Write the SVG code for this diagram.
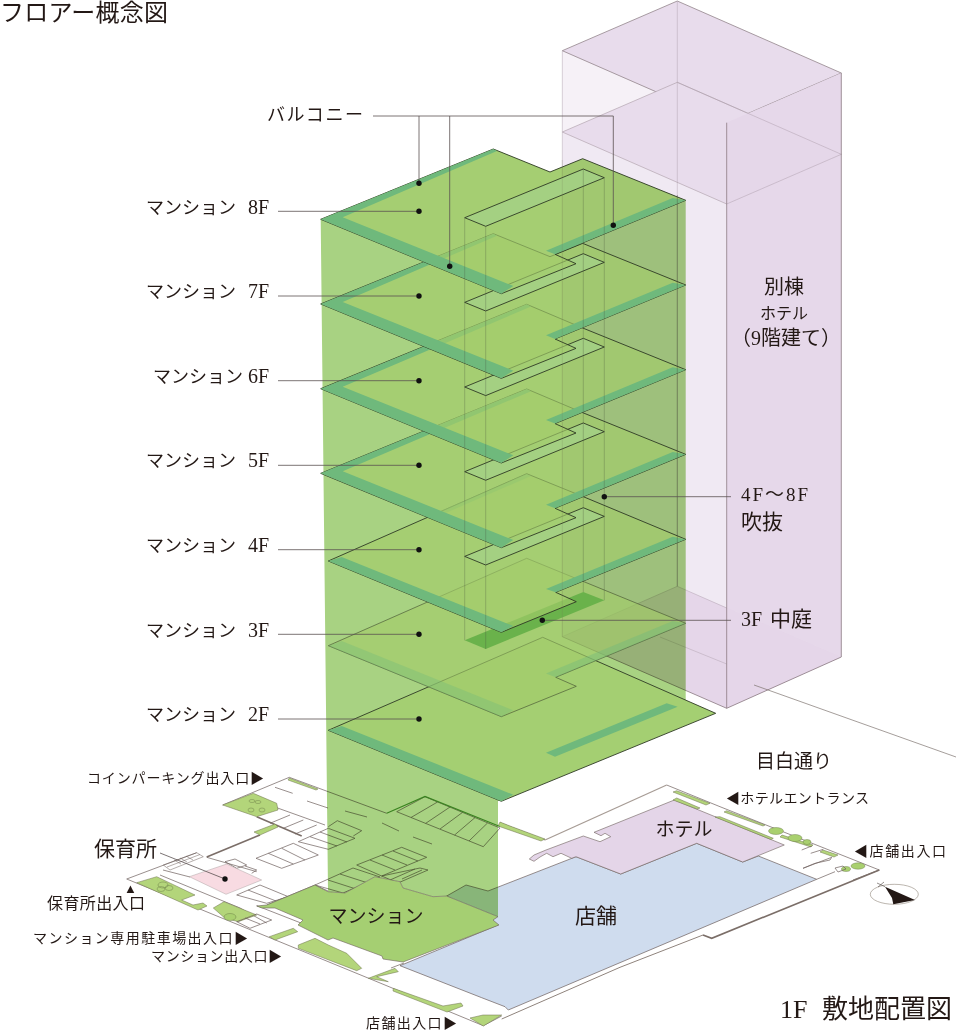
<svg xmlns="http://www.w3.org/2000/svg" width="956" height="1033" viewBox="0 0 956 1033">
<style>
text{font-family:"Liberation Serif","Noto Sans CJK JP",serif;fill:#231815}
.s14{font-size:14px}.s16{font-size:16px}.s18{font-size:18px}.s19{font-size:19px}.s20{font-size:20px}.s21{font-size:21px}.s24{font-size:24px}.s26{font-size:26px}
.m{text-anchor:middle}
.fl{fill:#a3cd6a;fill-opacity:.65;stroke:#2f3a25;stroke-width:.9;stroke-linejoin:miter}
.opaque{fill:#a4cf72;fill-opacity:1}
.faint{stroke:#4d5c38;stroke-width:.7}
.st{fill:#6fb97c}
.hole{fill:#a3d085;fill-opacity:.85;stroke:#2f3a25;stroke-width:.9}
.lead{fill:none;stroke:#5b5150;stroke-width:.8}
.dot{fill:#111}
.hl{fill:none;stroke:#8a7a82;stroke-width:.8}
.hf{fill:none;stroke:#a99ba5;stroke-width:.6;opacity:.7}
.atr{fill:none;stroke:#43503a;stroke-width:.7;opacity:.4}
.g{fill:none;stroke:#6d5f5b;stroke-width:.7}
.gt{fill:none;stroke:#7b6e68;stroke-width:1.6}
.pl{fill:#b3d57a;stroke:#6d6f4f;stroke-width:.5}
.tree{fill:#a9d06f;stroke:#5f6f3f;stroke-width:.4}
.ring{fill:none;stroke:#5f6f3f;stroke-width:.4}
</style>

<g id="hotel">
<polygon points="562.3,50.7 726.7,122.7 726.7,708.3 562.3,636.7" fill="#f0e9f3"/>
<polygon points="562.3,50.7 726.7,122.7 726.7,204 562.3,132" fill="#f6f1f7"/>
<polygon points="677.3,1 841.3,73 726.7,122.7 562.3,50.7" fill="#e8dcec" stroke="#93858b" stroke-width=".8"/>
<polygon points="677.3,82.3 841.3,154.3 726.7,204 562.3,132" fill="#e8dcec" stroke="#a99ba5" stroke-width=".6"/>
<polygon points="726.7,122.7 841.3,73 841.3,657 726.7,708.3" fill="#e5d6e9" fill-opacity=".95"/>
<polygon points="562.3,636.7 677.3,586.3 841.3,657 726.7,708.3" fill="#e5d6e9"/>
<path class="hf" d="M677.3,82.3L841.3,154.3L726.7,204M562.3,50.7V636.7M677.3,1V586.3M677.3,586.3L726.7,608M562.3,636.7L677.3,586.3M660,637L726.7,664"/>
<path class="hl" d="M726.7,122.7V708.3M841.3,73V657L726.7,708.3L562.3,636.7"/>
<path d="M754,685L956,757" fill="none" stroke="#7e7470" stroke-width=".7"/>
</g>

<g id="site-plan">
<g id="store"><path d="M400,965.7L498,925L446.7,896L466,885L488,891L576,856.7L620.7,874L696.7,843.3L742.7,862L758.3,856L816.7,879.3L508.3,1010L505,1006.7L481.7,997.7Z" fill="#cfdcee" stroke="#6d5f5b" stroke-width=".7"/></g>
<g id="hotel-plan"><path d="M674.3,800L784.3,845L742.7,862L696.7,843.3L620.7,874L576,856.7L571.7,858.3L561,853.3L553,856.7L546.7,853.3L540,857L534,861.3L529.3,859L534,855L546,850L583.3,836L600,841.7L610.7,836.7L605,833.3L601,835.7L594,832.3Z" fill="#e4d5e8" stroke="#6d5f5b" stroke-width=".6"/></g>
<g id="outline">
<path class="g" d="M289.3,777.3L222.7,805M289.3,777.3L386.7,813.3M126.7,879L196.7,852.7M126.7,879L368,978L483.3,1025.7M483.3,1025.7L501.7,1016M500,822.7L545,840M666.7,785L720,806.7L879.3,870L853,880M404,963L391,968M328,891L315,885L266.7,905"/>
<path d="M545,840L666.7,785" fill="none" stroke="#a79c95" stroke-width="1.3"/>
<path d="M501.7,1019L620,967.3L703,935" fill="none" stroke="#8f837c" stroke-width="1"/>
<path class="gt" d="M703,935L711.7,938.3L879.3,870"/>
<path class="gt" d="M206.7,857L260,835M256.7,816.7L301.7,836"/>
<path class="g" d="M206.7,857.3L256.7,871.7M163,870L190,877M160,875L240,908L266.7,923M256.7,905.7L301.7,923.3M276.7,807.7L325,825"/>
<path d="M163.3,865L196.7,852.7L203.3,856.7L170,870ZM167,867L200,854.5M174,860L181,864M180,858L187,862M186,856L193,860" fill="none" stroke="#6d5f5b" stroke-width=".5"/>
</g>
<g id="plantings">
<polygon class="pl" points="222.7,805 253.3,793.3 276.7,803.3 278,810 256.7,816.7"/>
<polygon class="pl" points="254,832 275,824 278,827 260,835"/>
<polygon class="pl" points="136.7,882.7 156.7,876.7 195,895 181.7,900 193,905 203,903 207,906 198,910"/>
<polygon class="pl" points="213.3,908 224,901.7 256.7,915 238.3,921.7 225,918.3"/>
<polygon class="pl" points="269.3,936.7 293.3,928.3 297.7,931.7 275,940"/>
<polygon class="pl" points="298.3,945 315,938.3 328.3,945 346.7,953.3 361.7,968.3 356.7,970.7 298.3,948.3"/>
<polygon class="pl" points="368.3,978.3 395,968.3 398.3,971.7 376.7,976.7 388.3,981.7"/>
<polygon class="pl" points="393.3,988.3 443,1006 461,1003 463,1006 447,1012 393,991"/>
<polygon class="pl" points="470,1018 483,1015 501.7,1015 483.3,1026"/>
<polygon class="pl" points="289.3,778 318,789 316,790 288,780"/>
<polygon class="pl" points="500,822 510,826 545,839 541,841 498,826"/>
<polygon class="pl" points="676.7,790.7 710,803.3 706,805 673,792"/>
<polygon class="pl" points="676.7,798 700,808 697,809 673,800"/>
<polygon class="pl" points="720,816.7 773.3,838.3 771,839.5 715,817"/>
<polygon class="pl" points="726.7,810.7 765,825 763,826 724,812"/>
<polygon class="pl" points="823,850 838,855 834,857 820,852"/>
<polygon class="pl" points="782,835 813,845 811,847 780,837"/>
<ellipse class="tree" cx="776" cy="831" rx="7.5" ry="3.5"/><ellipse class="tree" cx="795" cy="838" rx="7" ry="3.5"/><ellipse class="tree" cx="807" cy="842" rx="4" ry="2.5"/>
<ellipse class="tree" cx="858" cy="866" rx="7" ry="3.2"/><ellipse class="tree" cx="846" cy="869" rx="4.5" ry="2.5"/>
<ellipse class="tree" cx="230" cy="917" rx="6" ry="3.5"/>
<ellipse class="ring" cx="252" cy="801" rx="3" ry="1.5"/><ellipse class="ring" cx="258" cy="802" rx="3" ry="1.5"/><ellipse class="ring" cx="251" cy="810" rx="3" ry="2"/><ellipse class="ring" cx="262" cy="810" rx="3" ry="2"/>
<ellipse class="ring" cx="163" cy="885" rx="5" ry="3"/><ellipse class="ring" cx="169" cy="888" rx="4" ry="2.5"/><ellipse class="ring" cx="161" cy="889" rx="4" ry="2.5"/>
</g>
<g id="parking">
<path class="g" d="M396.7,811.7L425,796.7L500,828L483.3,846.7ZM437.5,802L411,817.5M450,807L425.6,823.4M462.5,812.4L440,829M475,817.6L454.6,835M487.5,823L469,841"/>
<path d="M386.7,813.3L425,796.5L500,826.5" fill="none" stroke="#58a03e" stroke-width="1.2"/>
<path class="g" d="M256,858.3L293.3,843.3L318.3,855L281.7,868.3ZM268.3,853.3L293.3,864M281.7,848.3L305,860"/>
<path class="g" d="M298.3,841.7L328.3,828.3L355,838.3L328.3,849.3ZM310,836.7L337,846M320,832L347,842"/>
<path class="g" d="M328.3,826.7L337.3,820.7L361.7,830.7L353.3,836"/>
<path class="g" d="M290,815L270,823.3M303.3,820L283.3,828.3M316.7,825L295,834"/>
<path class="g" d="M315,885L353,868L380,877L343,893ZM328,880L356,889M340,874L368,883"/>
<path class="g" d="M356.7,865L401.7,847.3L426.7,857.3L381.7,876ZM370,860L395,870M382,855L407,865M393,851L418,861"/>
<path class="g" d="M381.7,876L420,868L428,870L398,883ZM390,880L415,869M402,879L422,870"/>
<path class="g" d="M275,787.3L292.7,793.3M307,801L328,808M345,811L367,817M382,823L399,831M413,837L432,844"/>
<path class="g" d="M225,861.7L235,859L246.7,865L236.7,868.3ZM245,866L256.7,870L251.7,873.3M236.7,895L260,885L288.3,896.7L266.7,903.3ZM248,890L276,901M236.7,921.7L256.7,914L271.7,920L250,928.3ZM245,918L260,924"/>
<path class="g" stroke-width=".5" d="M801.7,850L811.7,846M810.7,853.3L823.3,849.3M803,868.3L831.7,857.3L830,860L815,863.3L803,868.3M816.7,879.3L835,871.7M835,868L843,866L846,869L838,872Z"/>
</g>
<g id="nursery"><polygon points="189.3,876.7 226.7,864 261.7,880 226,894.3" fill="#f8dbe2" stroke="#9b8f8f" stroke-width=".4"/></g>
<g id="compass">
<ellipse cx="894.3" cy="894.3" rx="24" ry="10" fill="none" stroke="#8e8478" stroke-width=".6"/>
<polygon points="885,886.7 915,900 893.3,904.3 892,898" fill="#231815"/>
<path d="M885,886.7L877,883M878,887L884,882" fill="none" stroke="#4c4340" stroke-width=".6"/>
</g>
</g>

<g id="volume" style="mix-blend-mode:multiply">
<path d="M320.7,219.3L493.3,149L550,172L582.7,158.7L685.7,200.3V700L498,801V916.7L446.7,896L433,896.7L403,888L400,881.7L375,876.7L345,893L328,891.7Z" fill="#a8d282"/>
</g>

<g id="mansion-1f"><path d="M256.7,906L266.7,905L315,885L328,891.7L345,893L375,876.7L400,881.7L403,888L433,896.7L446.7,896L498,916.7L493,920L499,925L403,962L383,959L382,956L333,938L328,940L298,925L303,920L275,908L262,908Z" fill="#a5cf72" stroke="#6d5f5b" stroke-width=".6"/></g>

<g id="floor-2f">
<path class="fl opaque" d="M328.3,730.3L542.7,637.3L715.7,713.3L501.3,801.3Z"/>
<path class="st" d="M328.3,730.3L341.7,726L513.3,794.7L501.3,801.3Z"/>
<path class="st" d="M666.7,703.3L677.7,706.7L555,756.7L546,752.7Z"/>
</g>
<g id="floor-3f">
<path class="fl faint" d="M328.3,645.7L526.7,558.3L685.7,623.3L555.7,677.3L576.3,686.3L501.3,716.7Z"/>
<path class="st" opacity=".35" d="M328.3,645.7L341.7,641L513.3,710.3L501.3,716.7Z"/>
<path class="st" opacity=".4" d="M685.7,623.3L672.7,621L546,673.4L555.7,677.3Z"/>
<polygon points="464.7,640.3 583.3,592 604.3,600.3 485.7,649" fill="#6ab24b"/>
</g>
<g id="floor-4f">
<path class="fl" d="M328.3,561L526.7,473.7L583.3,496.7L685.7,539.3L555.7,592.3L576.3,601.7L501.3,632.3Z"/>
<polygon class="hole" points="464.7,556.4 583.3,507.7 604.3,516.4 485.7,565"/>
<path class="st" d="M328.3,561L341.7,557L513.3,626L501.3,632.3Z"/>
<path class="st" d="M685.7,539.3L672.7,536.7L546,589L555.7,592.3Z"/>
<path class="st" opacity=".5" d="M526.7,473.7L531,476L441,515L436,513Z"/>
</g>
<g id="floor-5f" transform="translate(0,84.67)">
<path class="fl" d="M320.7,388.7L526.7,304.3L582.7,328L685.7,369.7L555,423.6L576,433L501.3,463Z"/>
<polygon class="hole" points="464.7,387 583.3,338.3 604.3,347 485.7,395.6"/>
<path class="st" d="M320.7,388.7L526.7,304.3L531,306.5L342.7,386.7L513.3,455.3L501.3,463Z"/>
<path class="st" d="M685.7,369.7L672.7,367.3L546,420L555,423.6Z"/>
</g>
<g id="floor-6f">
<path class="fl" d="M320.7,388.7L526.7,304.3L582.7,328L685.7,369.7L555,423.6L576,433L501.3,463Z"/>
<polygon class="hole" points="464.7,387 583.3,338.3 604.3,347 485.7,395.6"/>
<path class="st" d="M320.7,388.7L526.7,304.3L531,306.5L342.7,386.7L513.3,455.3L501.3,463Z"/>
<path class="st" d="M685.7,369.7L672.7,367.3L546,420L555,423.6Z"/>
</g>
<g id="floor-7f" transform="translate(0,84.67)">
<path class="fl" d="M320.7,219.3L493.3,149L550,172L582.7,158.7L685.7,200.3L555,254.3L576,263.7L501.3,293.7Z"/>
<polygon class="hole" points="464.7,217.7 583.3,169 604.3,177.7 485.7,226.3"/>
<path class="st" d="M320.7,219.3L493.3,149L497,151L342.7,217.3L513.3,286L501.3,293.7Z"/>
<path class="st" d="M685.7,200.3L672.7,198L546,250.7L555,254.3Z"/>
</g>
<g id="floor-8f">
<path class="fl" d="M320.7,219.3L493.3,149L550,172L582.7,158.7L685.7,200.3L555,254.3L576,263.7L501.3,293.7Z"/>
<polygon class="hole" points="464.7,217.7 583.3,169 604.3,177.7 485.7,226.3"/>
<path class="st" d="M320.7,219.3L493.3,149L497,151L342.7,217.3L513.3,286L501.3,293.7Z"/>
<path class="st" d="M685.7,200.3L672.7,198L546,250.7L555,254.3Z"/>
</g>
<path class="atr" d="M464.7,217.7V640.3M485.7,226.3V649M583.3,169V592M604.3,177.7V600.3"/>
<path d="M562.3,160V636.7" fill="none" stroke="#6e6e5a" stroke-width=".6" opacity=".3"/>
<path d="M677.3,195V586.3" fill="none" stroke="#4c4c3f" stroke-width=".7" opacity=".55"/>

<g id="connectors">
<path class="lead" d="M373,116H613.3V225.3M419,116V183.3M449.7,116V266.3"/>
<path class="lead" d="M278,211.3H419M278,296H419M278,380.7H419M278,465.3H419M278,549.7H419M278,634.3H419M278,719H419"/>
<path class="lead" d="M604.3,496.7H731M542.3,620.3H731M160,853L225,879"/>
<g class="dot"><circle cx="419" cy="183.3" r="2.7"/><circle cx="449.7" cy="266.3" r="2.7"/><circle cx="613.3" cy="225.3" r="2.7"/>
<circle cx="419" cy="211.3" r="2.7"/><circle cx="419" cy="296" r="2.7"/><circle cx="419" cy="380.7" r="2.7"/><circle cx="419" cy="465.3" r="2.7"/><circle cx="419" cy="549.7" r="2.7"/><circle cx="419" cy="634.3" r="2.7"/><circle cx="419" cy="719" r="2.7"/>
<circle cx="604.3" cy="496.7" r="2.7"/><circle cx="542.3" cy="620.3" r="2.7"/><circle cx="225" cy="879" r="2.7"/></g>
</g>

<g id="labels">
<text x="0" y="21" class="s24" textLength="168">フロアー概念図</text>
<text x="267" y="121" class="s18" textLength="96">バルコニー</text>
<text x="146" y="214" class="s18">マンション<tspan x="248" class="s20">8F</tspan></text>
<text x="146" y="298" class="s18">マンション<tspan x="248" class="s20">7F</tspan></text>
<text x="153" y="383" class="s18">マンション<tspan x="248" class="s20">6F</tspan></text>
<text x="146" y="467" class="s18">マンション<tspan x="248" class="s20">5F</tspan></text>
<text x="146" y="552" class="s18">マンション<tspan x="248" class="s20">4F</tspan></text>
<text x="146" y="637" class="s18">マンション<tspan x="248" class="s20">3F</tspan></text>
<text x="146" y="721" class="s18">マンション<tspan x="248" class="s20">2F</tspan></text>
<text x="784" y="294" class="s20 m">別棟</text>
<text x="784" y="319" class="s16 m">ホテル</text>
<text x="786" y="345" class="s20 m">（9階建て）</text>
<text x="741" y="501" class="s19" textLength="67">4F〜8F</text>
<text x="741" y="529" class="s21">吹抜</text>
<text x="741" y="626" class="s20">3F<tspan x="770" class="s21">中庭</tspan></text>
<text x="794" y="768" class="s19 m">目白通り</text>
<text x="726" y="803" class="s14" textLength="143">◀ホテルエントランス</text>
<text x="854" y="856" class="s14" textLength="92">◀店舗出入口</text>
<text x="87" y="783" class="s14" textLength="177">コインパーキング出入口▶</text>
<text x="94" y="856" class="s21">保育所</text>
<text x="124" y="893" style="font-size:13px">▲</text>
<text x="47" y="909" class="s16" textLength="98">保育所出入口</text>
<text x="33" y="943" class="s14" textLength="215">マンション専用駐車場出入口▶</text>
<text x="151" y="961" class="s14" textLength="131">マンション出入口▶</text>
<text x="366" y="1028" class="s14" textLength="91">店舗出入口▶</text>
<text x="684" y="836" class="s19 m">ホテル</text>
<text x="596" y="923" class="s21 m">店舗</text>
<text x="376" y="923" class="s19 m">マンション</text>
<text x="780" y="1018" class="s26">1F<tspan x="822">敷地配置図</tspan></text>
</g>
</svg>
